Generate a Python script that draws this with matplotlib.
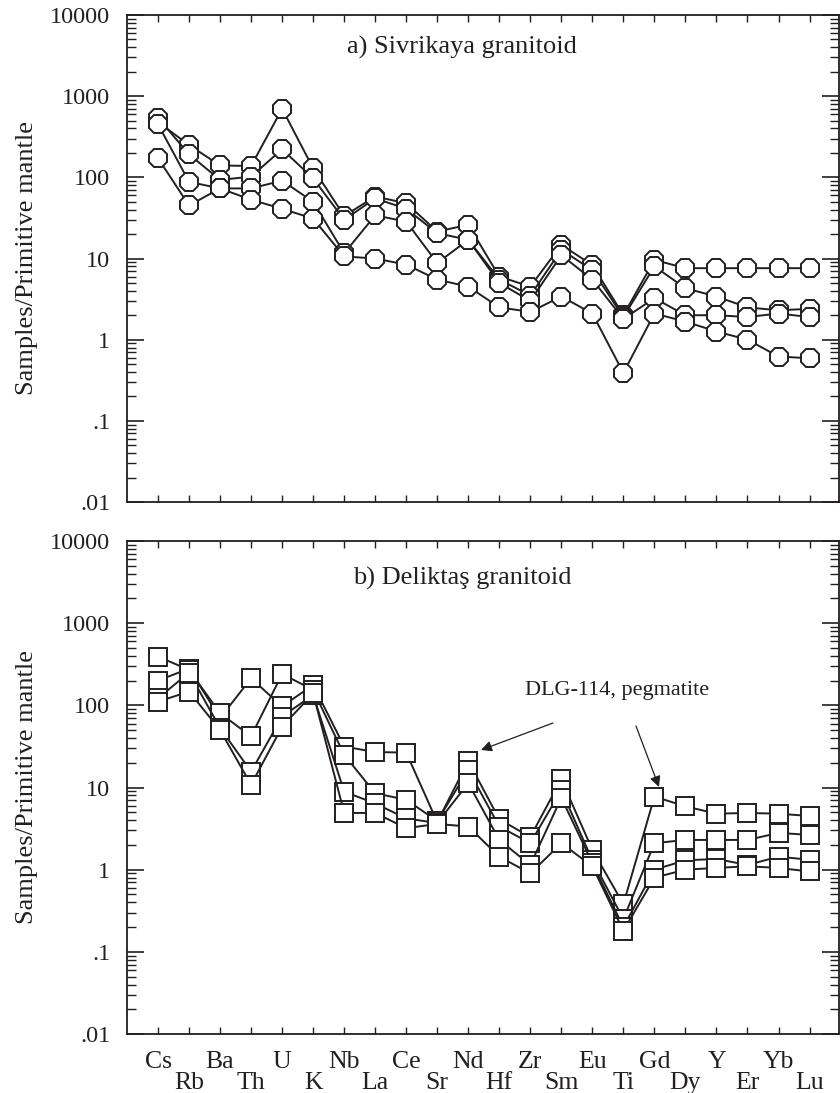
import matplotlib
matplotlib.use("Agg")
import matplotlib.pyplot as plt
from matplotlib.ticker import LogLocator, FixedLocator, FixedFormatter, NullFormatter

plt.rcParams['font.family'] = ['Liberation Serif', 'DejaVu Serif']

elements = ["Cs", "Rb", "Ba", "Th", "U", "K", "Nb", "La", "Ce", "Sr", "Nd",
            "Hf", "Zr", "Sm", "Eu", "Ti", "Gd", "Dy", "Y", "Er", "Yb", "Lu"]

# a) Sivrikaya granitoid
siv_1 = [480, 250, 140, 138, 700, 129, 33.5, 58, 48, 21.5, 26, 6.0, 4.5, 14.7, 8.3, 2.0, 9.6, 7.6, 7.6, 7.6, 7.6, 7.6]
siv_2 = [540, 192, 93, 102, 222, 97, 30, 55, 41, 20.5, 17, 5.5, 3.5, 12.8, 7.2, 1.9, 8.0, 4.3, 3.4, 2.5, 2.3, 2.4]
siv_3 = [450, 88, 73, 73, 91, 50, 11.6, 34, 28.5, 8.8, 17, 5.0, 3.0, 11.0, 5.5, 1.8, 3.25, 2.0, 2.0, 1.9, 2.1, 1.9]
siv_4 = [172, 45, 73, 53, 41, 31, 10.6, 10, 8.4, 5.5, 4.5, 2.5, 2.2, 3.4, 2.1, 0.39, 2.1, 1.67, 1.26, 1.0, 0.62, 0.59]

# b) Deliktas granitoid
del_1 = [200, 280, 70, 213, 97, 177, 31.5, 27, 26.6, 3.8, 21, 4.1, 2.5, 12.6, 1.74, 0.38, 7.75, 5.9, 4.8, 4.9, 4.8, 4.5]
del_2 = [392, 270, 80, 42, 241, 154, 25, 8.5, 7.1, 3.9, 16.4, 3.35, 2.1, 9.3, 1.3, 0.25, 2.1, 2.3, 2.3, 2.3, 2.8, 2.65]
del_3 = [122, 250, 53, 15.6, 73, 134, 8.9, 6.4, 4.2, 3.7, 11.3, 2.3, 1.14, 7.5, 1.2, 0.2, 1.0, 1.3, 1.35, 1.14, 1.44, 1.32]
del_4 = [111, 147, 50, 10.8, 55, 140, 4.9, 4.9, 3.2, 3.6, 3.35, 1.44, 0.9, 2.1, 1.1, 0.18, 0.8, 1.0, 1.05, 1.1, 1.05, 0.95]

ytick_vals = [0.01, 0.1, 1, 10, 100, 1000, 10000]
ytick_labels = [".01", ".1", "1", "10", "100", "1000", "10000"]

INK = '#231f20'
W, H = 840, 1093
fig = plt.figure(figsize=(W / 100, H / 100), dpi=100)

def px_axes(x0, y0, x1, y1):
    return fig.add_axes([x0 / W, 1 - y1 / H, (x1 - x0) / W, (y1 - y0) / H])

ax1 = px_axes(127, 15, 839, 502)
ax2 = px_axes(127, 541, 839, 1034)

xs = list(range(len(elements)))

def style(ax, show_labels):
    ax.set_yscale('log')
    ax.set_ylim(0.01, 10000)
    ax.set_xlim(-1, 21.95)
    ax.yaxis.set_major_locator(FixedLocator(ytick_vals))
    ax.yaxis.set_major_formatter(FixedFormatter(ytick_labels))
    ax.yaxis.set_minor_locator(LogLocator(base=10, subs=range(2, 10), numticks=20))
    ax.yaxis.set_minor_formatter(NullFormatter())
    ax.set_xticks(xs)
    ax.set_xticklabels([])
    ax.tick_params(axis='x', which='major', direction='in', top=True, bottom=True,
                   length=5, width=1.0, color=INK)
    ax.tick_params(axis='y', which='major', direction='in', left=True, right=True,
                   length=12.5, width=1.2, color=INK, labelsize=17.5, pad=12,
                   labelcolor=INK)
    ax.tick_params(axis='y', which='minor', direction='in', left=True, right=True,
                   length=6.5, width=1.0, color=INK)
    for s in ax.spines.values():
        s.set_linewidth(1.3)
        s.set_color(INK)
    if show_labels:
        for i, el in enumerate(elements):
            off = -20 if i % 2 == 0 else -35
            ax.annotate(el, xy=(xs[i], 0), xycoords=('data', 'axes fraction'),
                        xytext=(0, off), textcoords='offset points',
                        ha='center', va='center', fontsize=18.5, color=INK)

style(ax1, False)
style(ax2, True)

for ser in [siv_1, siv_2, siv_3, siv_4]:
    ax1.plot(xs, ser, color=INK, lw=1.4, marker='8', ms=14.5,
             mfc='white', mec=INK, mew=1.4)
for ser in [del_1, del_2, del_3, del_4]:
    ax2.plot(xs, ser, color=INK, lw=1.4, marker='s', ms=13.3,
             mfc='white', mec=INK, mew=1.4)

fig.text(462 / W, 1 - 47 / H, "a) Sivrikaya granitoid", ha='center', va='center',
         fontsize=19, color=INK)
fig.text(462 / W, 1 - 578 / H, "b) Deliktaş granitoid", ha='center', va='center',
         fontsize=19, color=INK)

for yc in [258, 787]:
    fig.text(27 / W, 1 - yc / H, "Samples/Primitive mantle", rotation=90,
             ha='center', va='center', fontsize=19, color=INK)

fig.text(617 / W, 1 - 690 / H, "DLG-114, pegmatite", ha='center', va='center',
         fontsize=16, color=INK)
for (sx, sy), (tx, ty) in [((553, 723), (481, 750)), ((636, 726), (659, 787))]:
    fig.add_artist(matplotlib.patches.FancyArrowPatch(
        (sx, H - sy), (tx, H - ty), transform=None, arrowstyle='-|>',
        mutation_scale=16, lw=0.9, color=INK, shrinkA=0, shrinkB=0))

fig.savefig("out.png", dpi=100)
